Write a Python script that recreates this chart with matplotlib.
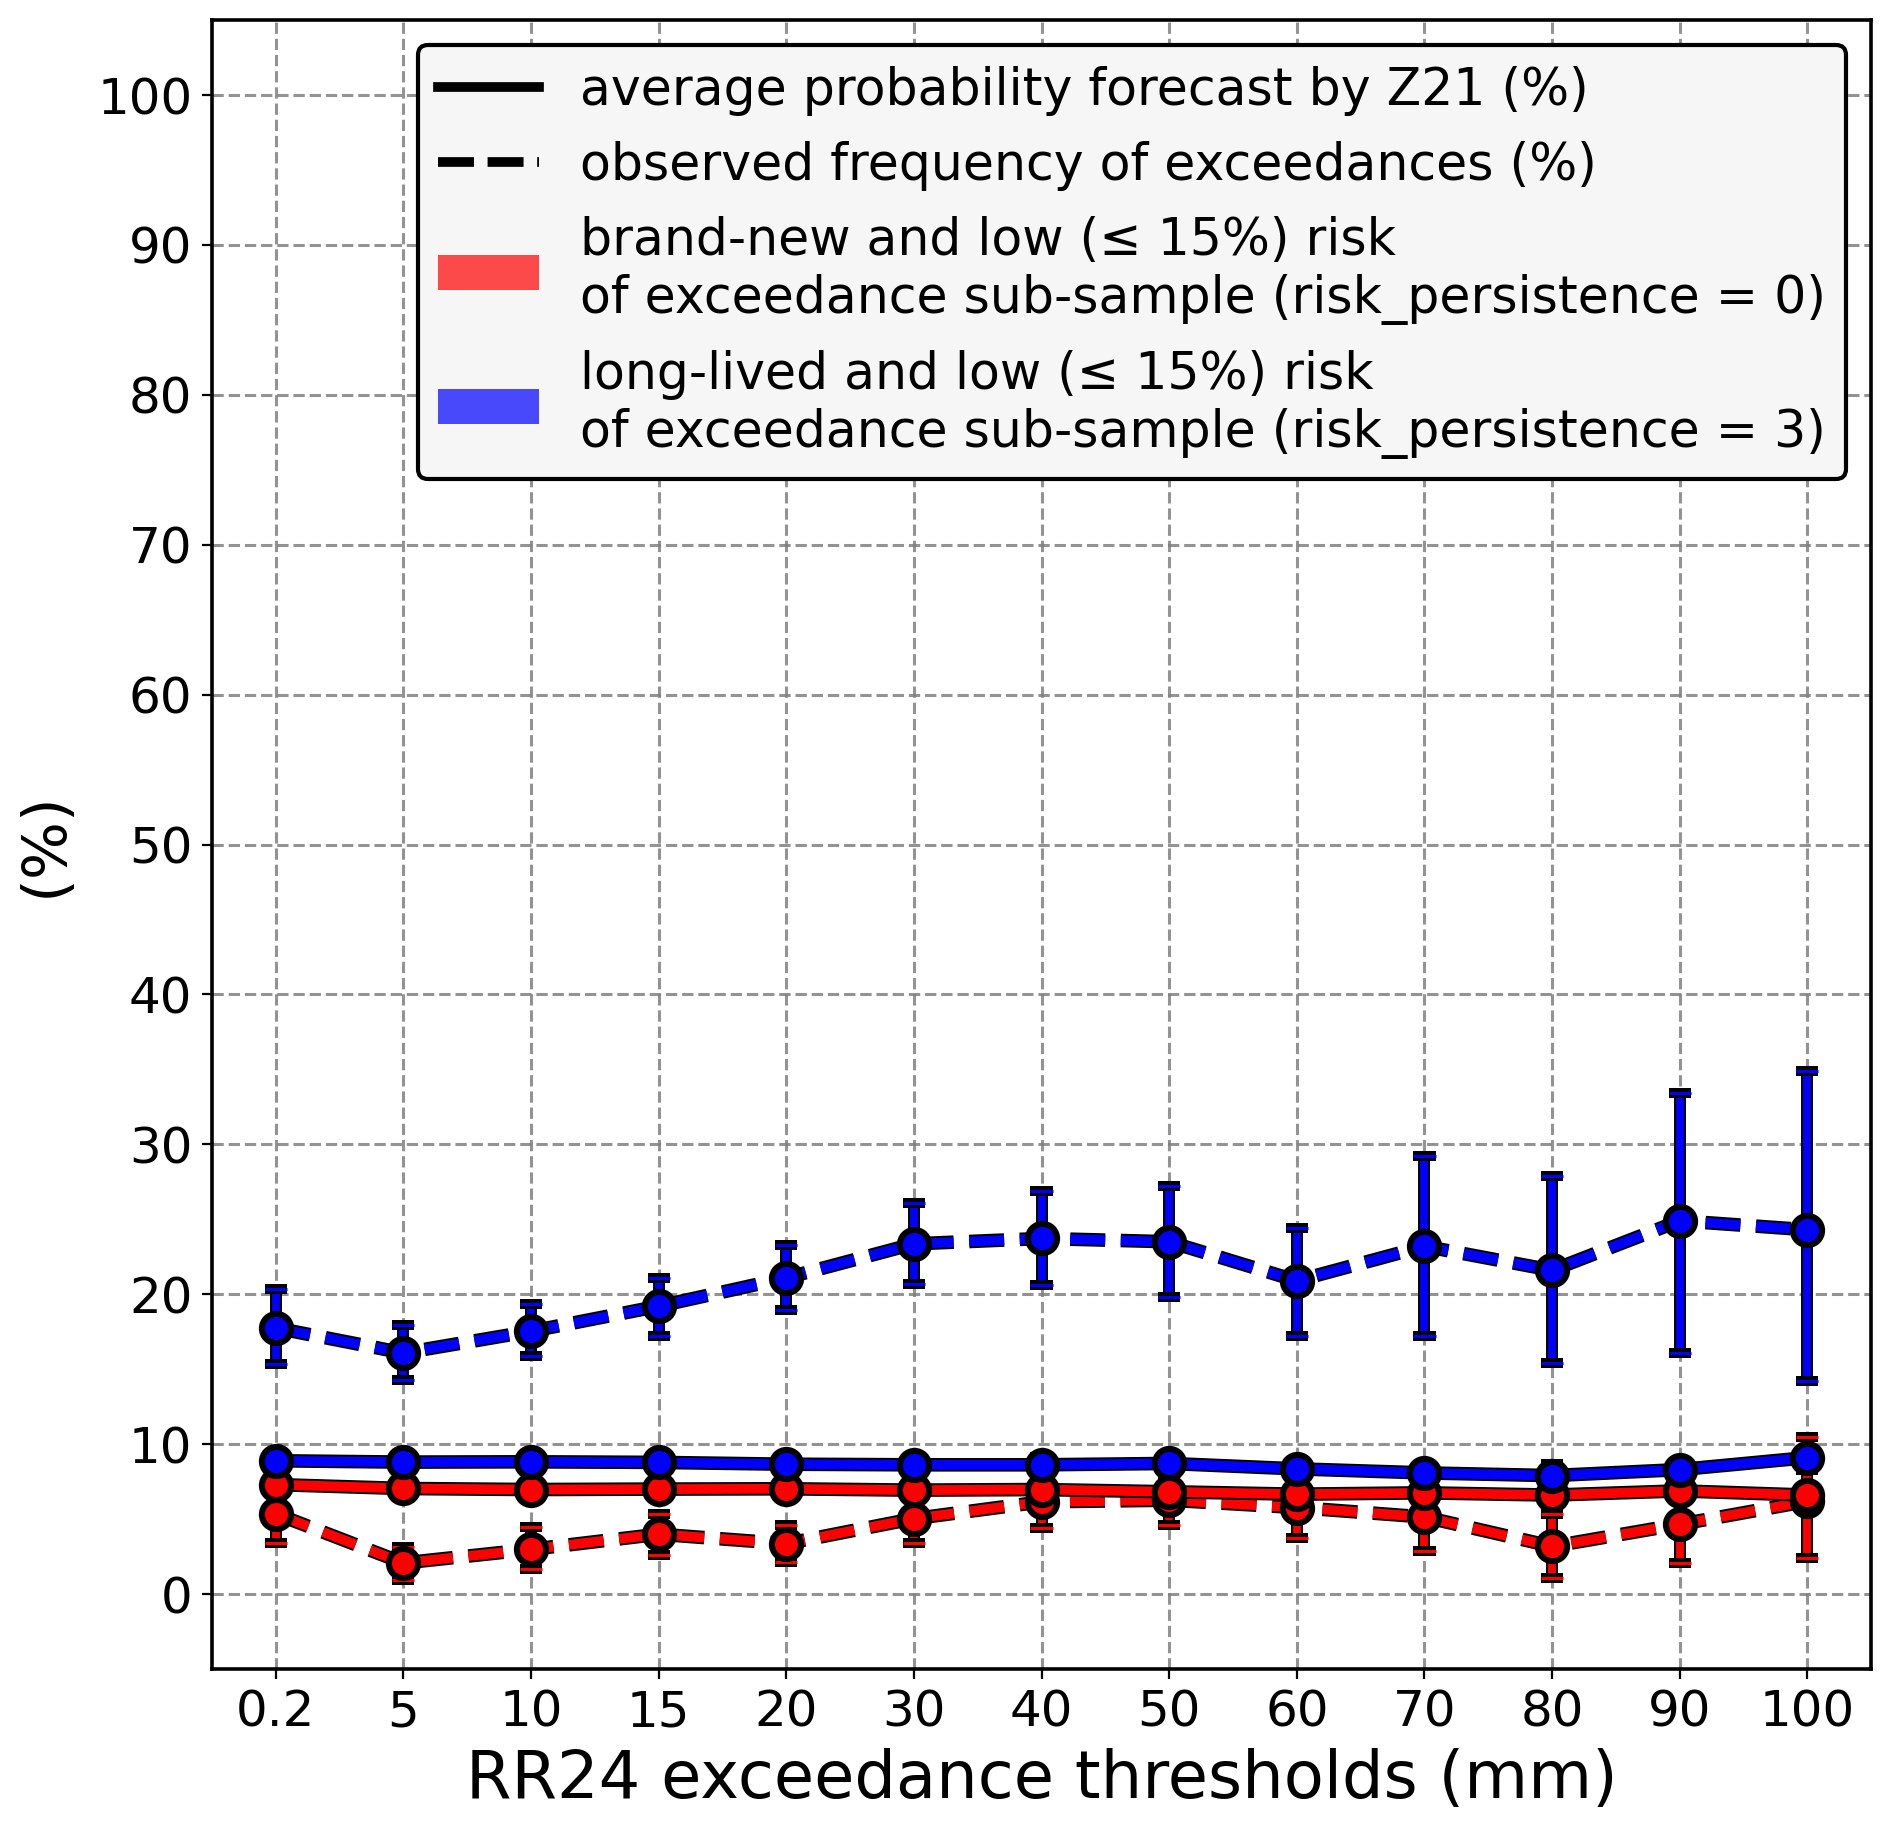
import matplotlib
matplotlib.use("Agg")
import matplotlib.pyplot as plt
import matplotlib.patheffects as pe
from matplotlib.lines import Line2D
from matplotlib.patches import Patch
import numpy as np

# ── data ────────────────────────────────────────────────────────────────────
THRESHOLDS = ["0.2", "5", "10", "15", "20", "30", "40", "50", "60", "70", "80", "90", "100"]

# risk_persistence = 0 (brand-new), average forecast by Z21
FC0    = [7.30, 7.04, 6.97, 7.00, 7.02, 6.93, 6.97, 6.82, 6.66, 6.75, 6.60, 6.88, 6.60]
FC0_LO = [7.00, 6.74, 6.67, 6.70, 6.72, 6.63, 6.67, 6.52, 6.36, 6.45, 6.30, 6.58, 6.30]
FC0_HI = [7.60, 7.34, 7.27, 7.30, 7.32, 7.23, 7.27, 7.12, 6.96, 7.05, 6.90, 7.18, 6.90]
# risk_persistence = 0, observed frequency
OB0    = [5.35, 2.07, 2.98, 3.99, 3.36, 5.03, 6.15, 6.26, 5.77, 5.14, 3.18, 4.65, 6.19]
OB0_LO = [3.40, 0.93, 1.67, 2.57, 2.12, 3.42, 4.40, 4.62, 3.72, 2.88, 1.10, 2.04, 2.42]
OB0_HI = [7.10, 3.14, 4.48, 5.37, 4.59, 6.50, 7.90, 7.90, 7.60, 7.30, 5.37, 7.30, 10.45]

# risk_persistence = 3 (long-lived), average forecast by Z21
FC3    = [8.89, 8.80, 8.82, 8.78, 8.66, 8.62, 8.62, 8.71, 8.35, 8.08, 7.90, 8.30, 9.10]
FC3_LO = [8.39, 8.30, 8.32, 8.28, 8.16, 8.12, 8.12, 8.21, 7.85, 7.58, 7.30, 7.80, 8.30]
FC3_HI = [9.39, 9.30, 9.32, 9.28, 9.16, 9.12, 9.12, 9.21, 8.85, 8.58, 8.70, 8.80, 9.60]
# risk_persistence = 3, observed frequency
OB3    = [17.75, 16.08, 17.53, 19.20, 21.09, 23.36, 23.72, 23.50, 20.90, 23.20, 21.60, 24.90, 24.30]
OB3_LO = [15.37, 14.25, 15.86, 17.19, 18.98, 20.65, 20.60, 19.80, 17.20, 17.20, 15.40, 16.10, 14.20]
OB3_HI = [20.38, 17.93, 19.33, 21.11, 23.27, 26.10, 26.90, 27.20, 24.40, 29.20, 27.90, 33.40, 34.90]

DASH = (0, (3.6, 1.6))


def draw(ax, y, lo, hi, color, ls, z):
    x = np.arange(len(THRESHOLDS))
    y = np.asarray(y)
    yerr = [y - np.asarray(lo), np.asarray(hi) - y]
    eb = ax.errorbar(x, y, yerr=yerr, fmt="none", ecolor=color,
                     elinewidth=2.8, capsize=4.0, capthick=1.1, zorder=z)
    for cap in eb.lines[1]:
        cap.set_path_effects([pe.Stroke(linewidth=3.6, foreground="k"), pe.Normal()])
    for lc in eb.lines[2]:
        lc.set_path_effects([pe.Stroke(linewidth=4.3, foreground="k"), pe.Normal()])
    ax.plot(x, y, color=color, ls=ls, lw=3.5, zorder=z + 0.1,
            path_effects=[pe.Stroke(linewidth=4.9, foreground="k"), pe.Normal()])
    ax.plot(x, y, ls="none", marker="o", ms=10.5, mfc=color, mec="k", mew=2.2,
            zorder=z + 0.2)


fig = plt.figure(figsize=(9.46, 9.14), dpi=200)
ax = fig.add_axes([0.112, 0.087, 0.877, 0.902])

draw(ax, OB0, OB0_LO, OB0_HI, "red", DASH, 3)
draw(ax, OB3, OB3_LO, OB3_HI, "blue", DASH, 4)
draw(ax, FC0, FC0_LO, FC0_HI, "red", "-", 5)
draw(ax, FC3, FC3_LO, FC3_HI, "blue", "-", 6)

ax.set_xlim(-0.5, len(THRESHOLDS) - 0.5)
ax.set_ylim(-5, 105)
ax.set_xticks(np.arange(len(THRESHOLDS)))
ax.set_xticklabels(THRESHOLDS)
ax.set_yticks(np.arange(0, 101, 10))
ax.tick_params(labelsize=18)
ax.grid(True, color="gray", ls="--", lw=1.1, alpha=0.85)
ax.set_axisbelow(True)
for s in ax.spines.values():
    s.set_linewidth(1.3)

ax.set_xlabel("RR24 exceedance thresholds (mm)", fontsize=23.6)
ax.set_ylabel("(%)", fontsize=22, labelpad=8)

handles = [
    Line2D([], [], color="k", lw=3.5, ls="-"),
    Line2D([], [], color="k", lw=3.5, ls=(0, (3.7, 1.4))),
    Patch(facecolor="red", alpha=0.7),
    Patch(facecolor="blue", alpha=0.7),
]
labels = [
    "average probability forecast by Z21 (%)",
    "observed frequency of exceedances (%)",
    "brand-new and low (≤ 15%) risk\nof exceedance sub-sample (risk_persistence = 0)",
    "long-lived and low (≤ 15%) risk\nof exceedance sub-sample (risk_persistence = 3)",
]
leg = ax.legend(handles, labels, loc="upper right", fontsize=18.2,
                facecolor="#f6f6f6", framealpha=1.0, edgecolor="k",
                fancybox=True, handlelength=2.0)
leg.get_frame().set_linewidth(1.5)

fig.savefig("out.png", dpi=200)
